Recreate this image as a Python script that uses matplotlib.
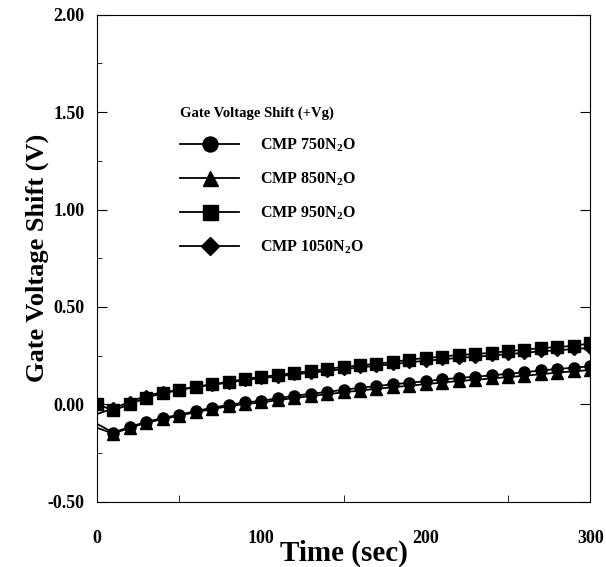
import matplotlib
matplotlib.use('Agg')
import matplotlib.pyplot as plt
from matplotlib.ticker import MultipleLocator

plt.rcParams['font.family'] = 'Liberation Serif'
plt.rcParams['font.weight'] = 'bold'
plt.rcParams['mathtext.default'] = 'regular'

# time in seconds
t = list(range(0, 301, 10))
cmp750 = [-0.10, -0.145, -0.115, -0.09, -0.07, -0.053, -0.035, -0.017, -0.003, 0.01, 0.018,
          0.032, 0.044, 0.054, 0.064, 0.075, 0.085, 0.094, 0.103, 0.111, 0.119,
          0.128, 0.136, 0.142, 0.149, 0.157, 0.165, 0.174, 0.182, 0.188, 0.196]
cmp850 = [-0.12, -0.15, -0.12, -0.095, -0.075, -0.058, -0.04, -0.024, -0.01, 0.002, 0.01,
          0.022, 0.033, 0.043, 0.052, 0.062, 0.071, 0.08, 0.088, 0.096, 0.104,
          0.112, 0.12, 0.126, 0.133, 0.14, 0.147, 0.155, 0.163, 0.17, 0.176]
cmp950 = [0.0, -0.03, 0.0, 0.035, 0.057, 0.073, 0.09, 0.103, 0.116, 0.13, 0.142,
          0.15, 0.162, 0.171, 0.182, 0.192, 0.2, 0.209, 0.217, 0.23, 0.238,
          0.245, 0.254, 0.258, 0.265, 0.273, 0.281, 0.289, 0.294, 0.301, 0.313]
cmp1050 = [-0.05, -0.02, 0.012, 0.045, 0.062, 0.075, 0.09, 0.1, 0.112, 0.125, 0.135,
           0.143, 0.154, 0.162, 0.172, 0.181, 0.19, 0.198, 0.206, 0.216, 0.224,
           0.231, 0.239, 0.244, 0.251, 0.258, 0.265, 0.272, 0.278, 0.284, 0.29]

series = [(cmp750, 'o', 'CMP 750N$_2$O'),
          (cmp850, '^', 'CMP 850N$_2$O'),
          (cmp950, 's', 'CMP 950N$_2$O'),
          (cmp1050, 'D', 'CMP 1050N$_2$O')]

fig = plt.figure(figsize=(6.06, 5.67), dpi=100)
ax = fig.add_axes([0.160, 0.115, 0.814, 0.859])

for y, m, lab in series:
    ms = 6.5 if m == 'D' else 8
    every = slice(0, None) if m == 's' else slice(1, None)
    ax.plot(t, y, color='black', lw=1.3, marker=m, ms=ms, markevery=every, label=lab)

ax.set_xlim(0, 300)
ax.set_ylim(-0.5, 2.0)
ax.xaxis.set_major_locator(MultipleLocator(100))
ax.xaxis.set_minor_locator(MultipleLocator(50))
ax.yaxis.set_major_locator(MultipleLocator(0.5))
ax.yaxis.set_minor_locator(MultipleLocator(0.25))
ax.yaxis.set_major_formatter(matplotlib.ticker.FormatStrFormatter('%.2f'))
ax.tick_params(which='both', direction='in', top=False, right=True, labelsize=13)
ax.tick_params(axis='y', which='major', length=7, pad=9)
ax.tick_params(axis='y', which='minor', length=3.5, right=False)
ax.tick_params(axis='x', which='major', length=0, pad=20)
ax.tick_params(axis='x', which='minor', length=5)
for lbl in ax.get_xticklabels() + ax.get_yticklabels():
    lbl.set_fontweight('bold')

ax.set_xlabel('Time (sec)', fontsize=21, fontweight='bold', labelpad=-5)
ax.set_ylabel('Gate Voltage Shift (V)', fontsize=19, fontweight='bold', labelpad=-1)

leg = ax.legend(loc='upper left', bbox_to_anchor=(0.14, 0.842), frameon=False,
                title='Gate Voltage Shift (+Vg)', alignment='left',
                prop={'weight': 'bold', 'size': 11.5}, markerscale=1.35,
                handlelength=3.7, handletextpad=1.3, labelspacing=1.05)
leg.get_title().set_fontweight('bold')
leg.get_title().set_fontsize(10.5)

fig.savefig('out.png', dpi=100)
